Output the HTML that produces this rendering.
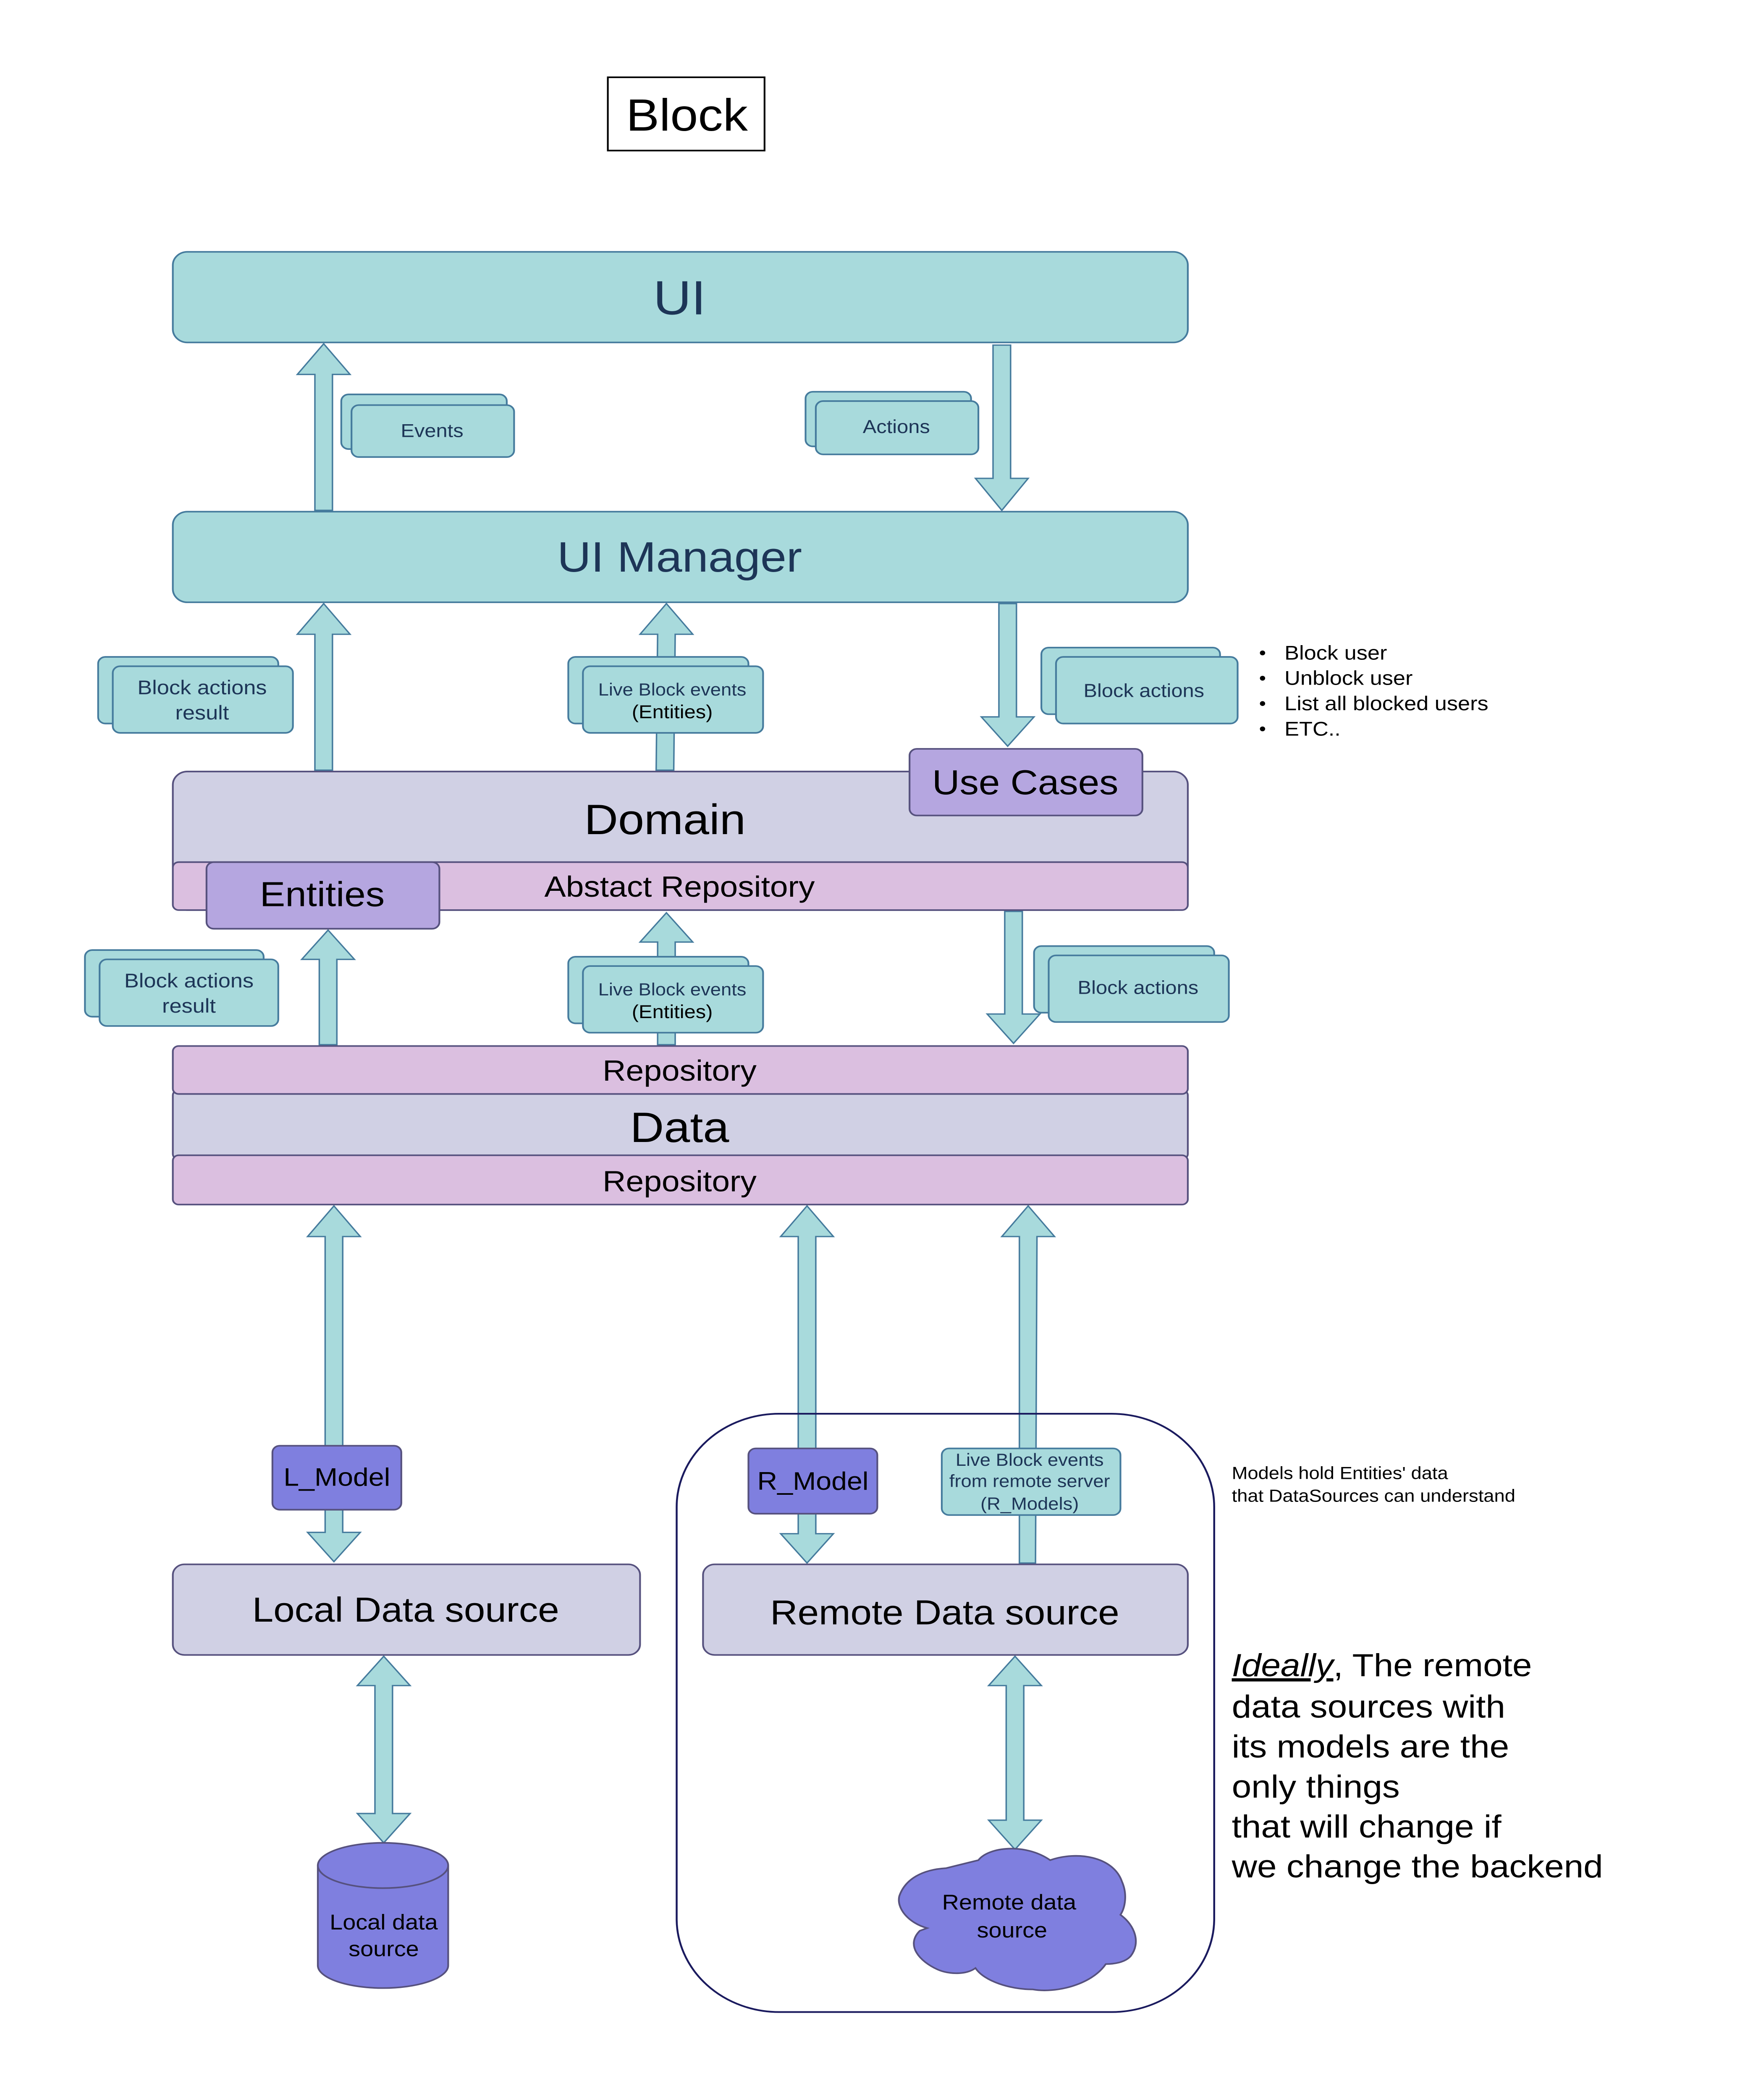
<!DOCTYPE html>
<html><head><meta charset="utf-8"><style>
html,body{margin:0;padding:0;background:#fff;width:100%;height:100%;overflow:hidden;}
svg{display:block;position:absolute;left:0;top:0;width:100vw;height:100vh;}
text{font-family:"Liberation Sans",sans-serif;}
</style></head><body>
<svg viewBox="0 0 1188 1576" preserveAspectRatio="none" xmlns="http://www.w3.org/2000/svg">
<defs>
<style>
.t{fill:#a8dadc;stroke:#457b9d;stroke-width:1.2}
.ar{fill:#a8dadc;stroke:#457b9d;stroke-width:1}
.d{fill:#d0d0e4;stroke:#56517e;stroke-width:1.2}
.p{fill:#dbbfe0;stroke:#56517e;stroke-width:1.2}
.u{fill:#b5a6e0;stroke:#56517e;stroke-width:1.2}
.m{fill:#7f7fdf;stroke:#56517e;stroke-width:1.2}
</style>
</defs>
<rect x="0" y="0" width="1188" height="1576" fill="#fff"/>
<rect x="415" y="58" width="107" height="55" fill="#fff" stroke="#000" stroke-width="1.2"/>
<text x="469" y="98" font-size="34" text-anchor="middle">Block</text>

<polygon class="ar" points="221,258 239,281 227,281 227,383 215,383 215,281 203,281"/>
<polygon class="ar" points="678,259 690,259 690,359 702,359 684,383 666,359 678,359"/>
<polygon class="ar" points="221,453 239,476 227,476 227,578 215,578 215,476 203,476"/>
<polygon class="ar" points="455,453 473,476 461,476 460,578 448,578 449,476 437,476"/>
<polygon class="ar" points="682,453 694,453 694,538 706,538 688,560 670,538 682,538"/>
<polygon class="ar" points="224,698 242,720 230,720 230,784 218,784 218,720 206,720"/>
<polygon class="ar" points="455,685 473,707 461,707 461,784 449,784 449,707 437,707"/>
<polygon class="ar" points="686,684 698,684 698,761 710,761 692,783 674,761 686,761"/>
<polygon class="ar" points="228,905 246,928 234,928 234,1150 246,1150 228,1172 210,1150 222,1150 222,928 210,928"/>
<polygon class="ar" points="551,905 569,928 557,928 557,1151 569,1151 551,1173 533,1151 545,1151 545,928 533,928"/>
<polygon class="ar" points="702,905 720,928 708,928 707,1173 696,1173 696,928 684,928"/>
<polygon class="ar" points="262,1243 280,1265 268,1265 268,1361 280,1361 262,1383 244,1361 256,1361 256,1265 244,1265"/>
<polygon class="ar" points="693,1243 711,1265 699,1265 699,1366 711,1366 693,1388 675,1366 687,1366 687,1265 675,1265"/>

<rect class="t" x="118" y="189" width="693" height="68" rx="10"/>
<text x="464" y="236" font-size="36" fill="#1d3557" text-anchor="middle">UI</text>
<rect class="t" x="233" y="296" width="113" height="41" rx="5"/>
<rect class="t" x="240" y="304" width="111" height="39" rx="5"/>
<text x="295" y="328" font-size="14" fill="#1d3557" text-anchor="middle">Events</text>
<rect class="t" x="550" y="294" width="113" height="41" rx="5"/>
<rect class="t" x="557" y="301" width="111" height="40" rx="5"/>
<text x="612" y="325" font-size="14" fill="#1d3557" text-anchor="middle">Actions</text>
<rect class="t" x="118" y="384" width="693" height="68" rx="10"/>
<text x="464" y="429" font-size="32" fill="#1d3557" text-anchor="middle">UI Manager</text>

<rect class="t" x="67" y="493" width="123" height="50" rx="5"/>
<rect class="t" x="77" y="500" width="123" height="50" rx="5"/>
<text x="138" y="521" font-size="15" fill="#1d3557" text-anchor="middle">Block actions</text>
<text x="138" y="540" font-size="15" fill="#1d3557" text-anchor="middle">result</text>
<rect class="t" x="388" y="493" width="123" height="50" rx="5"/>
<rect class="t" x="398" y="500" width="123" height="50" rx="5"/>
<text x="459" y="522" font-size="13" fill="#1d3557" text-anchor="middle">Live Block events</text>
<text x="459" y="539" font-size="14" fill="#000" text-anchor="middle">(Entities)</text>
<rect class="t" x="711" y="486" width="122" height="50" rx="5"/>
<rect class="t" x="721" y="493" width="124" height="50" rx="5"/>
<text x="781" y="523" font-size="14" fill="#1d3557" text-anchor="middle">Block actions</text>
<g font-size="15" fill="#000">
<circle cx="862" cy="490" r="1.8"/><text x="877" y="495">Block user</text>
<circle cx="862" cy="509" r="1.8"/><text x="877" y="514">Unblock user</text>
<circle cx="862" cy="528" r="1.8"/><text x="877" y="533">List all blocked users</text>
<circle cx="862" cy="547" r="1.8"/><text x="877" y="552">ETC..</text>
</g>

<rect class="d" x="118" y="579" width="693" height="104" rx="10"/>
<text x="454" y="626" font-size="32" fill="#000" text-anchor="middle">Domain</text>
<rect class="p" x="118" y="647" width="693" height="36" rx="4"/>
<text x="464" y="673" font-size="22" fill="#000" text-anchor="middle">Abstact Repository</text>
<rect class="u" x="621" y="562" width="159" height="50" rx="5"/>
<text x="700" y="596" font-size="26" fill="#000" text-anchor="middle">Use Cases</text>
<rect class="u" x="141" y="647" width="159" height="50" rx="5"/>
<text x="220" y="680" font-size="26" fill="#000" text-anchor="middle">Entities</text>

<rect class="t" x="58" y="713" width="122" height="50" rx="5"/>
<rect class="t" x="68" y="720" width="122" height="50" rx="5"/>
<text x="129" y="741" font-size="15" fill="#1d3557" text-anchor="middle">Block actions</text>
<text x="129" y="760" font-size="15" fill="#1d3557" text-anchor="middle">result</text>
<rect class="t" x="388" y="718" width="123" height="50" rx="5"/>
<rect class="t" x="398" y="725" width="123" height="50" rx="5"/>
<text x="459" y="747" font-size="13" fill="#1d3557" text-anchor="middle">Live Block events</text>
<text x="459" y="764" font-size="14" fill="#000" text-anchor="middle">(Entities)</text>
<rect class="t" x="706" y="710" width="123" height="50" rx="5"/>
<rect class="t" x="716" y="717" width="123" height="50" rx="5"/>
<text x="777" y="746" font-size="14" fill="#1d3557" text-anchor="middle">Block actions</text>

<rect class="d" x="118" y="818" width="693" height="52" rx="4"/>
<text x="464" y="857" font-size="32" fill="#000" text-anchor="middle">Data</text>
<rect class="p" x="118" y="785" width="693" height="36" rx="4"/>
<text x="464" y="811" font-size="22" fill="#000" text-anchor="middle">Repository</text>
<rect class="p" x="118" y="867" width="693" height="37" rx="4"/>
<text x="464" y="894" font-size="22" fill="#000" text-anchor="middle">Repository</text>

<rect x="462" y="1061" width="367" height="449" rx="70" fill="none" stroke="#1a1a5e" stroke-width="1.3"/>

<rect class="m" x="186" y="1085" width="88" height="48" rx="5"/>
<text x="230" y="1115" font-size="19" fill="#000" text-anchor="middle">L_Model</text>
<rect class="m" x="511" y="1087" width="88" height="49" rx="5"/>
<text x="555" y="1118" font-size="19" fill="#000" text-anchor="middle">R_Model</text>
<rect class="t" x="643" y="1087" width="122" height="50" rx="5"/>
<text x="703" y="1100" font-size="13" fill="#1d3557" text-anchor="middle">Live Block events</text>
<text x="703" y="1116" font-size="13" fill="#1d3557" text-anchor="middle">from remote server</text>
<text x="703" y="1133" font-size="13" fill="#1d3557" text-anchor="middle">(R_Models)</text>
<text x="841" y="1110" font-size="13" fill="#000">Models hold Entities' data</text>
<text x="841" y="1127" font-size="13" fill="#000">that DataSources can understand</text>

<rect class="d" x="118" y="1174" width="319" height="68" rx="8"/>
<text x="277" y="1217" font-size="26" fill="#000" text-anchor="middle">Local Data source</text>
<rect class="d" x="480" y="1174" width="331" height="68" rx="8"/>
<text x="645" y="1219" font-size="26" fill="#000" text-anchor="middle">Remote Data source</text>

<path class="m" d="M217,1400 A44.5,17 0 0 1 306,1400 L306,1475 A44.5,17 0 0 1 217,1475 Z"/>
<path d="M217,1400 A44.5,17 0 0 0 306,1400" fill="none" stroke="#56517e" stroke-width="1.2"/>
<text x="262" y="1448" font-size="16" fill="#000" text-anchor="middle">Local data</text>
<text x="262" y="1468" font-size="16" fill="#000" text-anchor="middle">source</text>

<path class="m" d="M668,1396 C675,1386 700,1383 717,1396 C735,1389 760,1393 766,1412 C770,1422 768,1432 765,1437 C775,1445 779,1458 772,1468 C768,1473 760,1474 755,1474 C745,1490 720,1496 705,1493 C690,1493 672,1487 666,1477 C660,1482 648,1482 640,1478 C628,1472 618,1460 628,1449 L633,1447 C620,1443 612,1432 614,1423 C618,1410 630,1403 646,1402 L668,1396 Z"/>
<text x="689" y="1433" font-size="16" fill="#000" text-anchor="middle">Remote data</text>
<text x="691" y="1454" font-size="16" fill="#000" text-anchor="middle">source</text>

<g font-size="24" fill="#000">
<text x="841" y="1258"><tspan font-style="italic" text-decoration="underline">Ideally</tspan>, The remote</text>
<text x="841" y="1289">data sources with</text>
<text x="841" y="1319">its models are the</text>
<text x="841" y="1349">only things</text>
<text x="841" y="1379">that will change if</text>
<text x="841" y="1409">we change the backend</text>
</g>
</svg>
</body></html>
